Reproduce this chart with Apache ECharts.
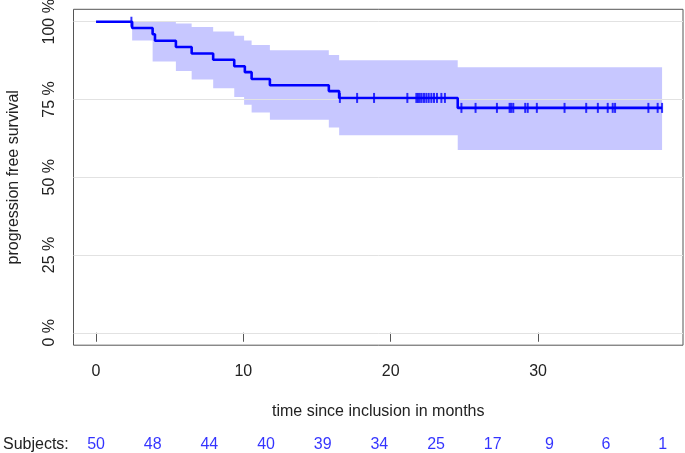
<!DOCTYPE html>
<html>
<head>
<meta charset="utf-8">
<script src="https://cdn.jsdelivr.net/npm/echarts@6/dist/echarts.min.js"></script>
<style>
html,body{margin:0;padding:0;background:#fff;}
#chart{width:685px;height:453px;}
</style>
</head>
<body>
<div id="chart"></div>
<script>
// Kaplan-Meier step curve (time in months, survival in %)
const eventTimes = [0, 2.45, 3.84, 4.0, 5.42, 6.49, 7.95, 9.38, 10.1, 10.56, 11.8, 15.8, 16.5, 24.55, 38.42];
const survival   = [100, 98.0, 96.0, 93.9, 91.9, 89.8, 87.8, 85.7, 83.8, 81.6, 79.6, 77.7, 75.5, 72.3, 72.3];

// Confidence band steps
const bandTimes = [2.45, 3.84, 5.42, 6.49, 7.95, 9.38, 10.05, 10.56, 11.8, 15.8, 16.5, 24.55];
const bandUpper = [100, 100, 99.4, 98.3, 96.9, 95.5, 94.0, 92.5, 90.8, 89.3, 87.6, 85.4];
const bandLower = [94.0, 87.2, 84.2, 81.4, 78.6, 75.8, 73.3, 70.8, 68.5, 66.0, 63.5, 58.8];
const bandEnd = 38.42;

// Censoring times
const censorTimes = [2.40, 16.55, 17.72, 18.87, 21.13, 21.74, 21.85, 21.97, 22.10, 22.26, 22.42, 22.58,
  22.76, 22.94, 23.14, 23.44, 23.68, 24.80, 25.76, 27.21, 28.07, 28.18, 28.32, 29.13, 29.30, 29.92,
  31.80, 33.27, 34.06, 34.73, 35.07, 35.23, 37.49, 38.12, 38.42];

// Number at risk
const riskTimes  = [0, 3.846, 7.692, 11.538, 15.385, 19.231, 23.077, 26.923, 30.769, 34.615, 38.462];
const riskCounts = [50, 48, 44, 40, 39, 34, 25, 17, 9, 6, 1];

// Axis ticks
const xTicks = [0, 10, 20, 30];
const yTicks = [0, 25, 50, 75, 100];

function levelAt(t) {
  let v = survival[0];
  for (let i = 0; i < eventTimes.length; i++) {
    if (eventTimes[i] <= t) v = survival[i];
  }
  return v;
}

const FONT = "'Liberation Sans', Arial, Helvetica, sans-serif";
const XMIN = -1.53, XMAX = 39.84, YMIN = -4, YMAX = 104;

const chart = echarts.init(document.getElementById('chart'), null, {renderer: 'canvas'});

const option = {
  animation: false,
  backgroundColor: '#ffffff',
  textStyle: {fontFamily: FONT},
  grid: [
    {left: 73.5, right: 2, top: 9.3, bottom: 107.8, show: true, borderColor: '#555555', borderWidth: 1,
      backgroundColor: 'transparent', containLabel: false, outerBoundsMode: 'none'},
    {left: 73.5, right: 2, top: 435, height: 20, show: false, containLabel: false, outerBoundsMode: 'none'}
  ],
  xAxis: [
    {
      type: 'value', gridIndex: 0, min: XMIN, max: XMAX,
      axisLine: {show: false},
      splitLine: {show: false},
      axisTick: {show: true, customValues: xTicks, length: 9, lineStyle: {color: '#555555', width: 1}},
      axisLabel: {show: true, customValues: xTicks, margin: 18, color: '#222222', fontSize: 16, fontFamily: FONT},
      name: 'time since inclusion in months', nameLocation: 'middle', nameGap: 58,
      nameTextStyle: {color: '#222222', fontSize: 16, fontFamily: FONT}
    },
    {
      type: 'value', gridIndex: 1, min: XMIN, max: XMAX, show: false
    }
  ],
  yAxis: [
    {
      type: 'value', gridIndex: 0, min: YMIN, max: YMAX,
      axisLine: {show: false},
      splitLine: {show: false},
      axisTick: {show: true, customValues: yTicks, length: 9, lineStyle: {color: '#555555', width: 1}},
      axisLabel: {show: true, customValues: yTicks, rotate: 90, margin: 16, color: '#222222', fontSize: 16, fontFamily: FONT,
        formatter: v => v + ' %'},
      name: 'progression free survival', nameLocation: 'middle', nameGap: 52,
      nameTextStyle: {color: '#222222', fontSize: 16, fontFamily: FONT}
    },
    {
      type: 'value', gridIndex: 1, min: 0, max: 1, show: false
    }
  ],
  series: [
    {
      type: 'custom', xAxisIndex: 0, yAxisIndex: 0, z: 1, silent: true,
      data: [[0]],
      clip: true,
      renderItem: function (params, api) {
        const pts = [];
        for (let i = 0; i < bandTimes.length; i++) {
          const t1 = (i + 1 < bandTimes.length) ? bandTimes[i + 1] : bandEnd;
          pts.push(api.coord([bandTimes[i], bandUpper[i]]));
          pts.push(api.coord([t1, bandUpper[i]]));
        }
        for (let i = bandTimes.length - 1; i >= 0; i--) {
          const t1 = (i + 1 < bandTimes.length) ? bandTimes[i + 1] : bandEnd;
          pts.push(api.coord([t1, bandLower[i]]));
          pts.push(api.coord([bandTimes[i], bandLower[i]]));
        }
        return {type: 'polygon', shape: {points: pts}, style: {fill: 'rgba(0,0,255,0.22)', stroke: null}};
      }
    },
    {
      type: 'line', xAxisIndex: 0, yAxisIndex: 0, z: 2, silent: true,
      data: [], symbol: 'none',
      markLine: {
        z: 2, silent: true, symbol: 'none', label: {show: false},
        lineStyle: {color: '#e2e2e2', width: 1, type: 'solid'},
        data: yTicks.map(v => ({yAxis: v}))
      }
    },
    {
      type: 'line', xAxisIndex: 0, yAxisIndex: 0, z: 3, silent: true,
      step: 'end', symbol: 'none',
      lineStyle: {color: '#0000ff', width: 2.6},
      data: eventTimes.map((t, i) => [t, survival[i]])
    },
    {
      type: 'scatter', xAxisIndex: 0, yAxisIndex: 0, z: 4, silent: true,
      symbol: 'rect', symbolSize: [2, 10],
      itemStyle: {color: '#0000ff'},
      data: censorTimes.map(t => [t, levelAt(t)])
    },
    {
      type: 'scatter', xAxisIndex: 1, yAxisIndex: 1, silent: true,
      symbolSize: 0,
      data: riskTimes.map((t, i) => [t, 0.5, riskCounts[i]]),
      label: {show: true, position: 'inside', formatter: p => String(p.value[2]),
        color: '#0000ff', fontSize: 16, fontFamily: FONT}
    }
  ],
  graphic: [
    {type: 'text', left: 3, top: 437, style: {text: 'Subjects:', fill: '#222222', fontSize: 16, fontFamily: FONT}}
  ]
};
chart.setOption(option);
</script>
</body>
</html>
